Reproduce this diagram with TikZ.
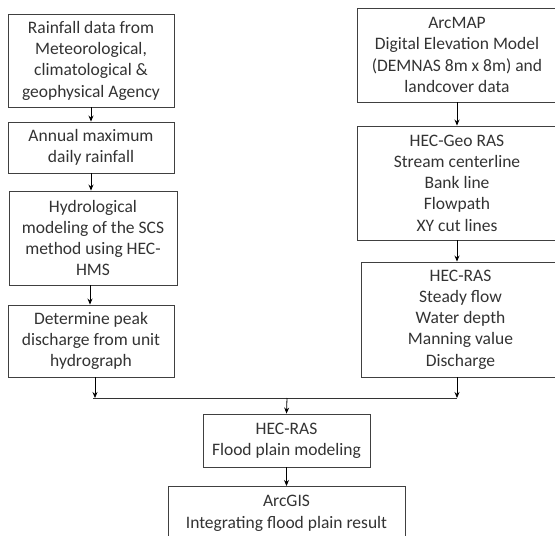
\documentclass[tikz,border=0pt]{standalone}
\usepackage{fontspec}
\setmainfont{Carlito}
\usetikzlibrary{arrows.meta,calc}
\begin{document}
\begin{tikzpicture}[x=1pt,y=-1pt,
  box/.style={draw=black!75,line width=0.9pt,text=black!80,align=center,
    inner sep=0pt,font=\fontsize{17.5}{21.3}\selectfont},
  arr/.style={draw=black,line width=0.8pt,-{Stealth[length=6pt,width=5pt]}},
  ln/.style={draw=black!80,line width=0.8pt}]
\useasboundingbox (0,0) rectangle (555,536);
\node[box,minimum width=166pt,minimum height=93pt] (L1) at (91,60.5)
  {Rainfall data from\\Meteorological,\\climatological \&\\geophysical Agency};
\node[box,minimum width=166pt,minimum height=51pt] (L2) at (91,147.5)
  {Annual maximum\\daily rainfall};
\node[box,minimum width=168pt,minimum height=94pt] (L3) at (93,238)
  {Hydrological\\modeling of the SCS\\method using HEC-\\HMS};
\node[box,minimum width=166pt,minimum height=72pt] (L4) at (91,341)
  {Determine peak\\discharge from unit\\hydrograph};
\node[box,minimum width=200pt,minimum height=94pt] (R1) at (457,55)
  {ArcMAP\\Digital Elevation Model\\(DEMNAS 8m x 8m) and\\landcover data};
\node[box,minimum width=200pt,minimum height=114pt] (R2) at (457,183)
  {HEC-Geo RAS\\Stream centerline\\Bank line\\Flowpath\\XY cut lines};
\node[box,minimum width=199pt,minimum height=115pt] (R3) at (460.5,319.5)
  {HEC-RAS\\Steady flow\\Water depth\\Manning value\\Discharge};
\node[box,minimum width=167pt,minimum height=53pt] (C1) at (286.5,440.5)
  {HEC-RAS\\Flood plain modeling};
\node[box,minimum width=237pt,minimum height=54pt,anchor=north] (C2) at (286.5,486)
  {ArcGIS\\Integrating flood plain result};
\coordinate (J) at (287,398);
\coordinate (L3b) at (90,285);
\coordinate (L4b) at (95,377);
\coordinate (Jl) at (93,398);
\draw[arr] (L1.south) -- (L1.south |- L2.north);
\draw[arr] (L2.south) -- (L2.south |- L3.north);
\draw[arr] (L3b) -- (L3b |- L4.north);
\draw[arr] (L4b) -- (L4b |- J);
\draw[ln] (Jl) -- (R1.south |- J);
\draw[arr] (R1.south) -- (R1.south |- R2.north);
\draw[arr] (R2.south) -- (R2.south |- R3.north);
\draw[arr] (R1.south |- R3.south) -- (R1.south |- J);
\draw[arr] (J) -- (C1.north);
\draw[arr] (C1.south) -- (C1.south |- C2.north);
\end{tikzpicture}
\end{document}
